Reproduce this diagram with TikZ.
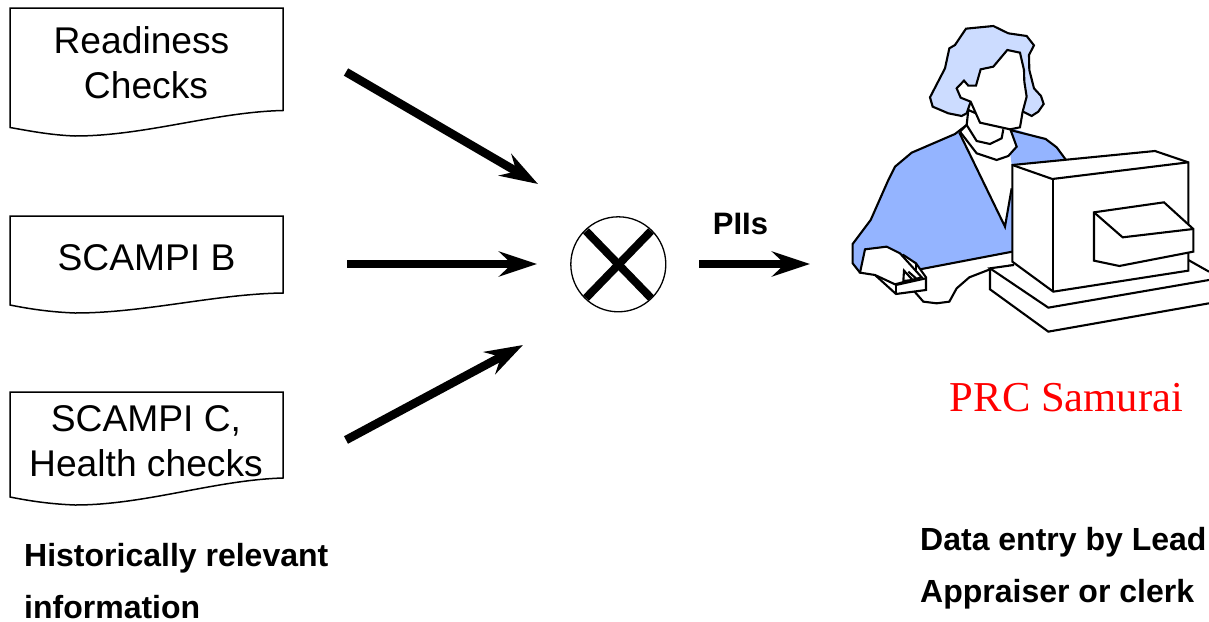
\documentclass[tikz,border=0pt]{standalone}
\usepackage{fontspec}
\setmainfont{Liberation Sans}
\newfontfamily\serifface{Liberation Serif}
\usetikzlibrary{arrows.meta}
\definecolor{hairblue}{HTML}{CCDCFF}
\definecolor{suitblue}{HTML}{94B4FF}
\tikzset{
  docshape/.style={draw=black,line width=1.5pt,fill=white},
  doctext/.style={align=center,font=\fontsize{37.2}{45}\selectfont,text=black,inner sep=0pt},
  boldlabel/.style={align=left,anchor=west,font=\fontsize{32}{52}\selectfont\bfseries,text=black,inner sep=0pt},
  flowarrow/.style={draw=black,line width=8.5pt,-{Stealth[length=38pt,width=25pt,inset=13pt]}},
  crossbar/.style={draw=black,line width=8pt},
  sketchthick/.style={draw=black,line width=2.1pt,line join=miter}
}
\begin{document}
\begin{tikzpicture}[x=1pt,y=-1pt]
\useasboundingbox (0,0) rectangle (1209,621);
% documents
\draw[docshape] (10,8) -- (283,8) -- (283,110.5) .. controls (215,112) and (145,136) .. (75,136) .. controls (50,135) and (30,131) .. (10,127.5) -- cycle;
\draw[docshape] (10,216) -- (283,216) -- (283,293) .. controls (215,294) and (145,313) .. (75,313) .. controls (50,312) and (30,309) .. (10,305) -- cycle;
\draw[docshape] (10,392) -- (283,392) -- (283,478) .. controls (215,480) and (145,505) .. (75,505) .. controls (50,504) and (30,501) .. (10,497) -- cycle;
\node[doctext] (readiness) at (146,62.8) {Readiness\hspace*{9pt}\\Checks};
\node[doctext] (scampib) at (146.5,258) {SCAMPI B};
\node[doctext] (scampic) at (146,441) {SCAMPI C,\\Health checks};
% merge symbol
\node[draw=black,line width=1.3pt,circle,minimum size=95pt,inner sep=0pt] (merge) at (618.3,264.3) {};
\draw[crossbar] (586,231) -- (651,298);
\draw[crossbar] (651,231) -- (586,298);
% connector ends
\coordinate (a1s) at (346,72);  \coordinate (a1e) at (538,184);
\coordinate (a2s) at (347,264); \coordinate (a2e) at (537,264);
\coordinate (a3s) at (346,440); \coordinate (a3e) at (523,345);
\coordinate (a4s) at (699,264); \coordinate (a4e) at (810,264);
\draw[flowarrow] (a1s) -- (a1e);
\draw[flowarrow] (a2s) -- (a2e);
\draw[flowarrow] (a3s) -- (a3e);
\draw[flowarrow] (a4s) -- (a4e);
\node[font=\fontsize{31}{36}\selectfont\bfseries,inner sep=0pt] (piis) at (740.5,224) {PIIs};
% labels
\node[boldlabel] (hist) at (24,581) {Historically relevant\\information};
\node[boldlabel] (entry) at (920,568) {Data entry by Lead\\Appraiser or clerk};
\node[font=\fontsize{42.6}{48}\selectfont\serifface,text=red,inner sep=0pt] (samurai) at (1066.5,398) {PRC Samurai};
% figure: upper part in zoom-1 coordinates
\begin{scope}[shift={(840,10)},x=0.3333pt,y=-0.3333pt]
  % right shoulder behind monitor
  \fill[suitblue] (500,350) -- (617,387) -- (650,412) -- (680,460) -- (517,480) -- cycle;
  \draw[sketchthick] (510,360) -- (617,387) -- (650,412) -- (678,450);
  % hair
  \draw[sketchthick,fill=hairblue] (378,56) -- (460,48) -- (505,70) -- (560,78) -- (582,106) -- (567,135) -- (568,180) -- (582,235) -- (603,258) -- (611,282) -- (595,305) -- (575,318) -- (545,303) -- (500,300) -- (392,275) -- (380,310) -- (365,318) -- (325,310) -- (278,290) -- (270,262) -- (315,175) -- (328,115) -- (345,105) -- cycle;
\end{scope}
% figure: lower part in zoom-2 coordinates
\begin{scope}[shift={(840,170)},x=0.3333pt,y=-0.3333pt]
  % torso with the V of the shirt cut out
  \fill[suitblue] (380,-135) -- (345,-108) -- (215,-52) -- (165,-10) -- (145,30) -- (92,150) -- (38,222) -- (38,280) -- (60,308) -- (240,298) -- (517,245) -- (517,55) -- (495,170) -- (358,-112) -- cycle;
  \draw[sketchthick] (380,-135) -- (345,-108) -- (215,-52) -- (165,-10) -- (145,30) -- (92,150) -- (38,222) -- (38,280) -- (60,308);
  \draw[sketchthick] (358,-112) -- (495,170) -- (515,55);
  \draw[sketchthick] (240,298) -- (517,245);
  % arm and desk edge
  \draw[sketchthick] (215,355) -- (250,395) -- (290,400) -- (328,395) -- (350,355) -- (388,322) -- (450,298) -- (522,285);
  % mouse
  \draw[sketchthick,fill=white] (105,315) -- (168,372) -- (258,360) -- (258,322) -- (228,280) -- (190,255) -- cycle;
  \draw[sketchthick] (168,345) -- (168,372);
  \draw[sketchthick] (168,345) -- (258,325);
  % hand
  \draw[sketchthick,fill=white] (60,308) -- (75,238) -- (140,230) -- (180,250) -- (245,322) -- (165,343) -- (105,315) -- cycle;
  \draw[sketchthick,fill=white] (190,333) -- (192,302) -- (218,330) -- cycle;
  \draw[sketchthick] (205,305) -- (228,325);
  \draw[sketchthick] (228,280) -- (228,300);
  % base
  \fill[white] (450,295) -- (450,358) -- (625,485) -- (1107,400) -- (1107,305) -- (1045,270) -- (522,285) -- cycle;
  \draw[sketchthick] (522,285) -- (450,295) -- (625,413) -- (1107,330);
  \draw[sketchthick] (1045,270) -- (1107,305);
  \draw[sketchthick] (450,295) -- (450,358) -- (625,485) -- (1107,400);
  % monitor
  \draw[sketchthick,fill=white] (517,-15) -- (945,-57) -- (1045,-23) -- (1045,302) -- (640,365) -- (517,275) -- cycle;
  \draw[sketchthick] (517,-15) -- (637,27) -- (1045,-23);
  \draw[sketchthick] (640,27) -- (640,365);
  % drive
  \draw[sketchthick,fill=white] (762,127) -- (972,97) -- (1060,177) -- (1060,245) -- (838,288) -- (762,272) -- cycle;
  \draw[sketchthick] (762,127) -- (848,202) -- (1060,177);
\end{scope}
% figure: neck and face in zoom-1 coordinates
\begin{scope}[shift={(840,10)},x=0.3333pt,y=-0.3333pt]
  \draw[sketchthick,fill=white] (385,300) -- (380,345) -- (360,365) -- (410,430) -- (470,450) -- (505,438) -- (530,410) -- (510,355) -- cycle;
  \draw[sketchthick] (380,345) -- (410,393) -- (450,402) -- (485,385) -- (490,358);
  \draw[sketchthick,fill=white] (392,275) -- (420,338) -- (510,358) -- (540,352) -- (548,305) -- (560,260) -- (553,215) -- (552,180) -- (540,128) -- (502,120) -- (460,170) -- (422,178) -- (408,227) -- (385,227) -- (372,212) -- (350,235) -- (362,263) -- cycle;
\end{scope}
\end{tikzpicture}
\end{document}
